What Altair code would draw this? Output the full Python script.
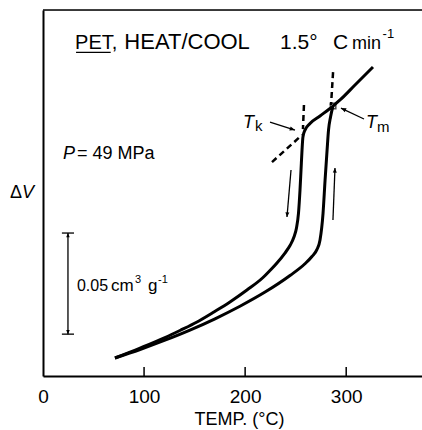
import math
import altair as alt
import pandas as pd

# Dilatometer traces for PET at 49 MPa: temperature (°C) vs volume change ΔV (cm³ g⁻¹)
heat_T = [71.2, 96.0, 120.7, 145.4, 170.2, 194.9, 219.7, 244.4, 259.2, 266.1, 271.1, 274.1,
          277.1, 279.1, 281.1, 282.5, 284.5, 286.9]
heat_V = [0.0089, 0.0131, 0.0177, 0.0227, 0.0283, 0.0345, 0.0415, 0.0497, 0.0555, 0.0591,
          0.0626, 0.0673, 0.0806, 0.0969, 0.1118, 0.1216, 0.1281, 0.1335]

cool_T = [71.2, 96.0, 120.7, 135.5, 152.4, 168.2, 185.0, 201.8, 217.7, 224.6, 231.5, 239.4,
          244.4, 248.3, 250.8, 252.8, 254.3, 255.3, 256.3, 257.2, 259.2, 264.2, 274.1, 286.9,
          293.9, 308.7, 326.5]
cool_V = [0.0089, 0.0138, 0.0190, 0.0225, 0.0267, 0.0314, 0.0366, 0.0425, 0.0487, 0.0522,
          0.0559, 0.0608, 0.0645, 0.0687, 0.0732, 0.0806, 0.0920, 0.1019, 0.1118, 0.1182,
          0.1216, 0.1249, 0.1286, 0.1335, 0.1365, 0.1439, 0.1528]

x_ticks = [0, 100, 200, 300]

# Construction lines locating Tk and Tm
dash_T1 = [258.2, 287.0, 226.6]
dash_V1 = [0.1340, 0.1503, 0.1058]
dash_T2 = [257.2, 285.0, 256.3]
dash_V2 = [0.1221, 0.1340, 0.1192]

# Pointer arrows (tail -> tip)
arrow_T1 = [224.6, 317.6, 245.4, 286.9]
arrow_V1 = [0.1256, 0.1271, 0.1019, 0.0771]
arrow_T2 = [249.3, 294.8, 241.4, 288.9]
arrow_V2 = [0.1216, 0.1325, 0.0786, 0.1029]

# Scale bar: 0.05 cm³ g⁻¹
bar_T = 24.7
bar_base = 0.0207
bar_len = 0.05
tm_T, tm_V = 287.0, 0.1335

W, H = 379, 366
X_MAX, Y_MAX = 375, 0.181
KX, KY = W / X_MAX, H / Y_MAX
FONT = "Liberation Sans"

xs = alt.Scale(domain=[0, X_MAX], nice=False, zero=False)
ys = alt.Scale(domain=[0, Y_MAX], nice=False, zero=False)

curves = pd.DataFrame({
    "T": heat_T + cool_T,
    "V": heat_V + cool_V,
    "branch": ["heat"] * len(heat_T) + ["cool"] * len(cool_T),
})

x_axis = alt.Axis(values=x_ticks, grid=False, ticks=False, tickSize=0, labelFlush=False,
                  labelOverlap=False, labelFontSize=19, labelFont=FONT, labelColor="black",
                  labelPadding=11, labelBaseline="top",
                  domainColor="black", domainWidth=2,
                  title="TEMP. (°C)", titleFont=FONT, titleFontSize=18, titleFontWeight="normal",
                  titleColor="black", titleBaseline="alphabetic", titleAlign="center",
                  titleAnchor="start", titleX=196, titleY=48)
y_axis = alt.Axis(labels=False, ticks=False, grid=False, title=None,
                  domainColor="black", domainWidth=2)

base = alt.Chart(curves)
lines = base.mark_line(color="black", strokeWidth=3, interpolate="monotone").encode(
    x=alt.X("T:Q", scale=xs, axis=x_axis),
    y=alt.Y("V:Q", scale=ys, axis=y_axis),
    detail="branch:N",
)

top_rule = alt.Chart(pd.DataFrame({"V": [Y_MAX]})).mark_rule(color="black", strokeWidth=1.5).encode(
    y=alt.Y("V:Q", scale=ys)
)

ticks = alt.Chart(pd.DataFrame({"T": x_ticks[1:]})).mark_rule(color="black", strokeWidth=1.5).encode(
    x=alt.X("T:Q", scale=xs), y=alt.value(H - 9), y2=alt.value(H)
)

dashes = alt.Chart(pd.DataFrame({"T": dash_T1, "V": dash_V1, "T2": dash_T2, "V2": dash_V2})).mark_rule(
    color="black", strokeWidth=2.5, strokeDash=[6, 4]
).encode(x=alt.X("T:Q", scale=xs), y=alt.Y("V:Q", scale=ys), x2="T2:Q", y2="V2:Q")


def heading(t1, v1, t2, v2):
    return math.degrees(math.atan2(-(v2 - v1) * KY, (t2 - t1) * KX)) % 360


arrows = pd.DataFrame({"T": arrow_T1, "V": arrow_V1, "T2": arrow_T2, "V2": arrow_V2})
shafts = alt.Chart(arrows).mark_rule(color="black", strokeWidth=1.3).encode(
    x=alt.X("T:Q", scale=xs), y=alt.Y("V:Q", scale=ys), x2="T2:Q", y2="V2:Q"
)

bar_top = bar_base + bar_len
heads = pd.DataFrame({
    "T": arrow_T2 + [bar_T, bar_T],
    "V": arrow_V2 + [bar_top, bar_base],
    "ang": [heading(a, b, c, d) for a, b, c, d in zip(arrow_T1, arrow_V1, arrow_T2, arrow_V2)] + [270.0, 90.0],
    "sz": [110, 110, 90, 90, 70, 70],
})
head_marks = alt.Chart(heads).mark_point(
    shape="M0,0L-1,-0.42L-1,0.42Z", filled=True, color="black", opacity=1, strokeWidth=0
).encode(
    x=alt.X("T:Q", scale=xs), y=alt.Y("V:Q", scale=ys),
    angle=alt.Angle("ang:Q", scale=None), size=alt.Size("sz:Q", scale=None),
)

scale_bar = alt.Chart(pd.DataFrame({"T": [bar_T], "V": [bar_base], "V2": [bar_top]})).mark_rule(
    color="black", strokeWidth=1.3
).encode(x=alt.X("T:Q", scale=xs), y=alt.Y("V:Q", scale=ys), y2="V2:Q")
bar_caps = alt.Chart(pd.DataFrame({"V": [bar_base, bar_top]})).mark_rule(color="black", strokeWidth=1.3).encode(
    x=alt.datum(bar_T - 6), x2=alt.datum(bar_T + 6), y=alt.Y("V:Q", scale=ys)
)

tm_box = alt.Chart(pd.DataFrame({"T": [tm_T], "V": [tm_V]})).mark_point(
    shape="square", filled=False, color="black", size=30, strokeWidth=1.5
).encode(x=alt.X("T:Q", scale=xs), y=alt.Y("V:Q", scale=ys))

# Text placed in data coordinates
upright = pd.DataFrame([
    ("PET,", 31.7, 0.1617, 20),
    ("HEAT/COOL", 80.5, 0.1617, 22),
    ("1.5°", 234.5, 0.1617, 21),
    ("C", 286.9, 0.1617, 21),
    ("min", 305.7, 0.1617, 18),
    ("-1", 336.0, 0.1671, 13),
    ("= 49 MPa", 33.6, 0.1073, 18),
    ("Δ", -32.7, 0.0880, 18),
    ("0.05", 33.6, 0.0420, 16),
    ("cm", 67.3, 0.0420, 17),
    ("3", 91.0, 0.0460, 11),
    ("g", 103.9, 0.0420, 17),
    ("-1", 113.8, 0.0460, 11),
    ("k", 209.8, 0.1212, 15),
    ("m", 330.5, 0.1207, 15),
], columns=["label", "T", "V", "size"])
italic = pd.DataFrame([
    ("P", 19.8, 0.1073, 18),
    ("V", -20.8, 0.0880, 18),
    ("T", 197.9, 0.1226, 18),
    ("T", 319.6, 0.1226, 18),
], columns=["label", "T", "V", "size"])


def text_layer(df, style):
    return alt.Chart(df).mark_text(align="left", baseline="alphabetic", color="black",
                                   font=FONT, fontStyle=style).encode(
        x=alt.X("T:Q", scale=xs), y=alt.Y("V:Q", scale=ys), text="label:N",
        size=alt.Size("size:Q", scale=None),
    )


underline = alt.Chart(pd.DataFrame({"T": [32.7], "T2": [67.0], "V": [0.1600]})).mark_rule(
    color="black", strokeWidth=1.3
).encode(x=alt.X("T:Q", scale=xs), x2="T2:Q", y=alt.Y("V:Q", scale=ys))

chart = alt.layer(
    lines, top_rule, ticks, dashes, shafts, head_marks, scale_bar, bar_caps, tm_box,
    text_layer(upright, "normal"), text_layer(italic, "italic"), underline,
).properties(
    width=W, height=H,
    padding={"left": 43, "top": 10, "right": 0, "bottom": 54},
    autosize=alt.AutoSizeParams(type="none"),
).configure_view(stroke=None).configure(font=FONT)

chart.save("out.html", embed_options={"renderer": "svg", "actions": False})
